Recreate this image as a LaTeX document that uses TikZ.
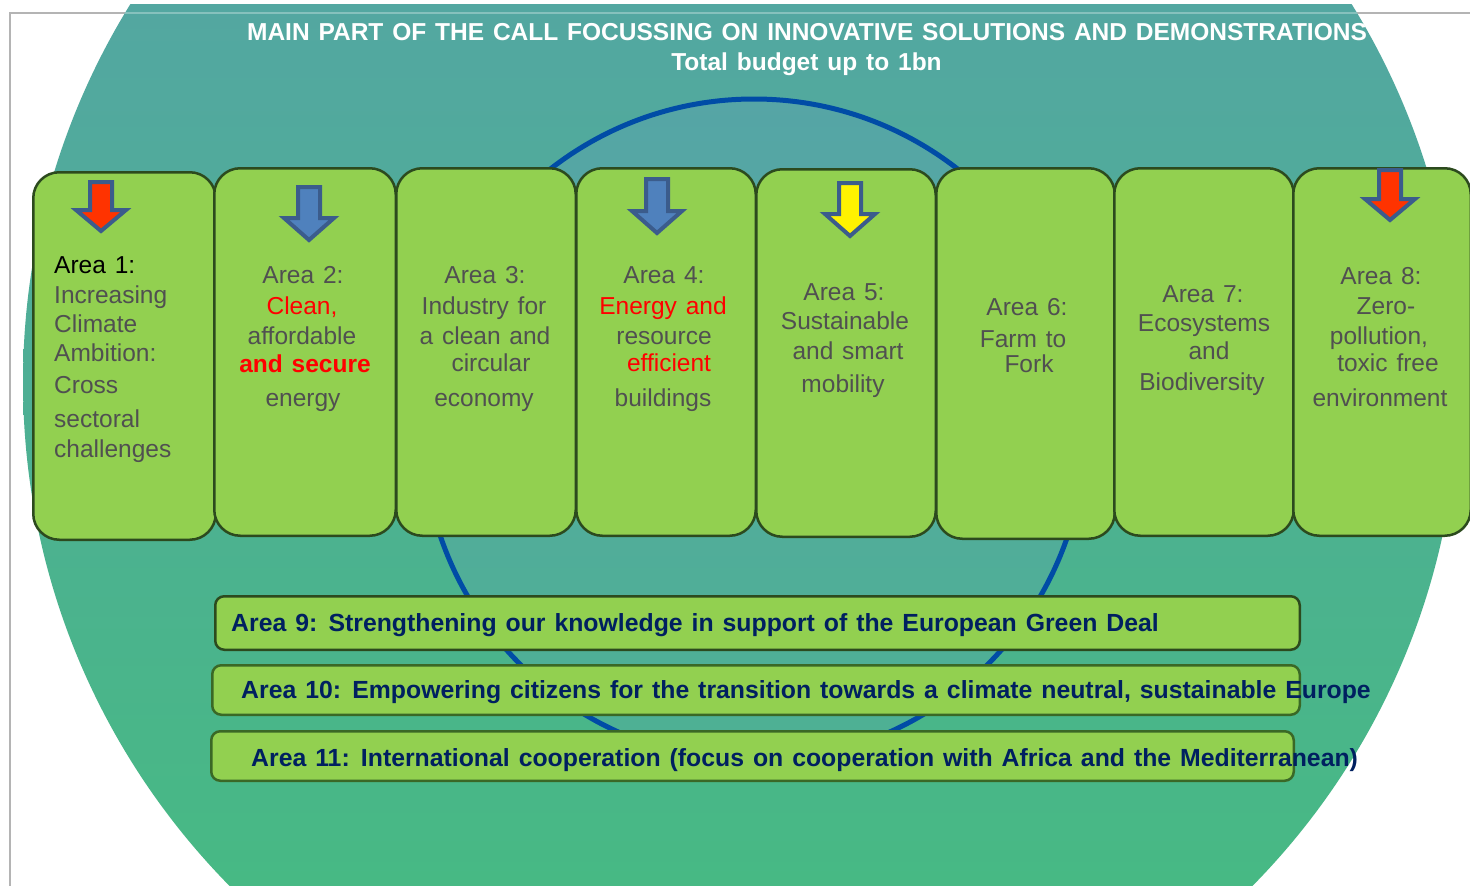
\documentclass[tikz,border=0pt]{standalone}
\usepackage{fontspec}
\setmainfont{Liberation Sans}[WordSpace=1.3]
\definecolor{tealtop}{RGB}{83,167,161}
\definecolor{greenbot}{RGB}{71,185,132}
\definecolor{boxfill}{RGB}{146,208,80}
\definecolor{boxline}{RGB}{44,74,30}
\definecolor{barline}{RGB}{58,104,38}
\definecolor{ringblue}{RGB}{0,76,166}
\definecolor{ringfill}{RGB}{120,140,230}
\definecolor{txtgray}{RGB}{80,80,80}
\definecolor{navy}{RGB}{0,32,96}
\definecolor{arrowline}{RGB}{59,92,140}
\definecolor{arrowblue}{RGB}{79,129,189}
\definecolor{arrowred}{RGB}{255,51,0}
\definecolor{framegray}{RGB}{180,180,180}
\newcommand\areaarrow[5]{%
  \draw[arrowline, line width=4pt, fill=#5, line join=miter]
    ({#1-11},{#2+2}) -- ({#1+11},{#2+2}) -- ({#1+11},{#3+2}) -- ({#1+25},{#3+2})
    -- ({#1},{#4-3}) -- ({#1-25},{#3+2}) -- ({#1-11},{#3+2}) -- cycle;}
\begin{document}
\begin{tikzpicture}[x=1pt,y=-1pt,
  areabox/.style={draw=boxline, line width=2.5pt, fill=boxfill, rounded corners=26pt, inner sep=0pt},
  barbox/.style={draw=#1, line width=2.5pt, fill=boxfill, rounded corners=9pt, inner sep=0pt},
  lbl/.style={font=\fontsize{24.5}{29}\selectfont, text=txtgray, inner sep=0pt, anchor=base},
  lblw/.style={lbl, anchor=base west},
  redt/.style={lbl, text=red},
  redb/.style={lbl, text=red, font=\fontsize{24.5}{29}\selectfont\bfseries},
  bartext/.style={font=\fontsize{24.8}{29}\selectfont\bfseries, text=navy, inner sep=0pt, anchor=base west},
  titletext/.style={font=\fontsize{24.5}{29}\selectfont\bfseries, text=white, inner sep=0pt, anchor=base}]
\useasboundingbox (0,0) rectangle (1470,886);
\clip (0,0) rectangle (1470,886);
\fill[white] (0,0) rectangle (1470,886);
% frame
\draw[framegray, line width=1.5pt] (10,886) -- (10,13) -- (1470,13);
% big circle
\begin{scope}
  \clip (0,4) rectangle (1470,886);
  \clip (741,382) circle[radius=718pt];
  \shade[top color=tealtop, bottom color=greenbot] (0,4) rectangle (1470,886);
  \draw[white, opacity=0.3, line width=1.5pt] (10,13) -- (1470,13);
\end{scope}
% inner ring
\draw[ringblue, line width=5pt, fill=ringfill, fill opacity=0.12] (754,430) circle[radius=331pt];
% title
\node[titletext] (title1) at (807,40) {MAIN PART OF THE CALL FOCUSSING ON INNOVATIVE SOLUTIONS AND DEMONSTRATIONS};
\node[titletext] (title2) at (806.5,70) {Total budget up to 1bn};
% area boxes
\node[areabox, minimum width=182.5pt, minimum height=367.5pt] (b1) at (124.5,356) {};
\node[areabox, minimum width=181.5pt, minimum height=367.5pt] (b2) at (305,352) {};
\node[areabox, minimum width=179.5pt, minimum height=367.5pt] (b3) at (486,352) {};
\node[areabox, minimum width=179.5pt, minimum height=367.5pt] (b4) at (666,352) {};
\node[areabox, minimum width=179.5pt, minimum height=367.5pt] (b5) at (846,353) {};
\node[areabox, minimum width=178.5pt, minimum height=370.5pt] (b6) at (1025.5,353.5) {};
\node[areabox, minimum width=179.5pt, minimum height=367.5pt] (b7) at (1204,352) {};
\node[areabox, minimum width=177.5pt, minimum height=367.5pt] (b8) at (1382,352) {};
% arrows
\areaarrow{101}{180}{208}{234}{arrowred}
\areaarrow{309}{185}{216}{243}{arrowblue}
\areaarrow{657}{177}{209}{236}{arrowblue}
\areaarrow{850}{181}{212}{239}{yellow}
\areaarrow{1390}{168}{197}{223}{arrowred}
% box 1
\node[lblw, text=black] (t1a) at (54,273) {Area 1:};
\node[lblw] (t1b) at (54,303) {Increasing};
\node[lblw] (t1c) at (54,332) {Climate};
\node[lblw] (t1d) at (54,361) {Ambition:};
\node[lblw] (t1e) at (54,393) {Cross};
\node[lblw] (t1f) at (54,427) {sectoral};
\node[lblw] (t1g) at (54,457) {challenges};
% box 2
\node[lbl] (t2a) at (303,283) {Area 2:};
\node[redt] (t2b) at (302,314) {Clean,};
\node[lbl] (t2c) at (302,344) {affordable};
\node[redb] (t2d) at (305,372) {and secure};
\node[lbl] (t2e) at (303,406) {energy};
% box 3
\node[lbl] (t3a) at (485,283) {Area 3:};
\node[lbl] (t3b) at (484,314) {Industry for};
\node[lbl] (t3c) at (485,344) {a clean and};
\node[lbl] (t3d) at (491,371) {circular};
\node[lbl] (t3e) at (484,406) {economy};
% box 4
\node[lbl] (t4a) at (664,283) {Area 4:};
\node[redt] (t4b) at (663,314) {Energy and};
\node[lbl] (t4c) at (664,344) {resource};
\node[redt] (t4d) at (669,371) {efficient};
\node[lbl] (t4e) at (663,406) {buildings};
% box 5
\node[lbl] (t5a) at (844,300) {Area 5:};
\node[lbl] (t5b) at (845,329) {Sustainable};
\node[lbl] (t5c) at (848,359) {and smart};
\node[lbl] (t5d) at (843,392) {mobility};
% box 6
\node[lbl] (t6a) at (1027,315) {Area 6:};
\node[lbl] (t6b) at (1023,347) {Farm to};
\node[lbl] (t6c) at (1029,372) {Fork};
% box 7
\node[lbl] (t7a) at (1203,302) {Area 7:};
\node[lbl] (t7b) at (1204,331) {Ecosystems};
\node[lbl] (t7c) at (1209,359) {and};
\node[lbl] (t7d) at (1202,390) {Biodiversity};
% box 8
\node[lbl] (t8a) at (1381,284) {Area 8:};
\node[lbl] (t8b) at (1386,314) {Zero-};
\node[lbl] (t8c) at (1379,344) {pollution,};
\node[lbl] (t8d) at (1388,371) {toxic free};
\node[lbl] (t8e) at (1380,406) {environment};
% bars
\node[barbox=boxline, minimum width=1084.5pt, minimum height=53.5pt] (r9) at (757.5,623) {};
\node[barbox=barline, minimum width=1087.5pt, minimum height=49.5pt] (r10) at (756,690) {};
\node[barbox=barline, minimum width=1082.5pt, minimum height=49.5pt] (r11) at (752.5,756) {};
\node[bartext] (a9) at (231,631) {Area 9: Strengthening our knowledge in support of the European Green Deal};
\node[bartext] (a10) at (241,698) {Area 10: Empowering citizens for the transition towards a climate neutral, sustainable Europe};
\node[bartext] (a11) at (251,766) {Area 11: International cooperation (focus on cooperation with Africa and the Mediterranean)};
\end{tikzpicture}
\end{document}
